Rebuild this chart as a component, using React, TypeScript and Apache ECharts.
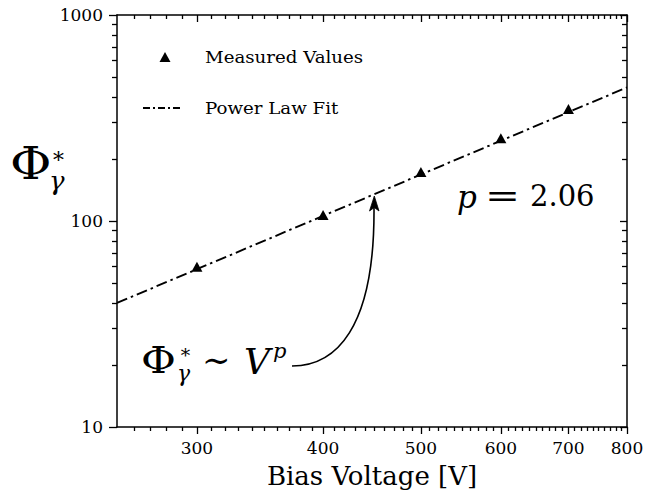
import React, { useEffect, useRef } from "react";
import * as echarts from "echarts";

// ---- data ----
const measuredVoltage = [300, 400, 500, 600, 700];
const measuredFlux = [60, 107, 173, 252, 350];
const fitVoltage = [250, 800];
const fitFlux = [40, 445];

const xMajorTicks = [300, 400, 500, 600, 700, 800];
const xMinorTicks = [260, 270, 280, 290, 310, 320, 330, 340, 350, 360, 370, 380, 390,
  410, 420, 430, 440, 450, 460, 470, 480, 490, 510, 520, 530, 540, 550, 560, 570, 580, 590,
  610, 620, 630, 640, 650, 660, 670, 680, 690, 710, 720, 730, 740, 750, 760, 770, 780, 790];
const yMajorTicks = [10, 100, 1000];
const yMinorTicks = [20, 30, 40, 50, 60, 70, 80, 90, 200, 300, 400, 500, 600, 700, 800, 900];

const legendNames = ["Measured Values", "Power Law Fit"];

const X_MIN = 250;
const X_MAX = 800;
const Y_MIN = 10;
const Y_MAX = 1000;

const FONT = "DejaVu Serif";
const BLACK = "#000";
const FIT_DASH = [11, 4, 2.5, 4];

export default function App() {
  const ref = useRef<HTMLDivElement>(null);

  useEffect(() => {
    if (!ref.current) return;
    const chart = echarts.init(ref.current, undefined, { renderer: "svg" });

    const xBase = (pos: string, ticks: number[], len: number, inside: boolean, labels: boolean, line: boolean, extra: any = {}) => ({
      type: "log",
      logBase: 10,
      position: pos,
      min: X_MIN,
      max: X_MAX,
      gridIndex: 0,
      axisLine: { show: line, onZero: false, lineStyle: { color: BLACK, width: 1.5 } },
      axisTick: { show: true, customValues: ticks, length: len, inside, lineStyle: { color: BLACK, width: 1.3 } },
      axisLabel: labels
        ? { show: true, customValues: ticks, color: BLACK, fontFamily: FONT, fontSize: 17, margin: 12, formatter: (v: number) => String(Math.round(v)) }
        : { show: false },
      splitLine: { show: false },
      minorTick: { show: false },
      ...extra,
    });

    const yBase = (pos: string, ticks: number[], len: number, inside: boolean, labels: boolean, line: boolean) => ({
      type: "log",
      logBase: 10,
      position: pos,
      min: Y_MIN,
      max: Y_MAX,
      gridIndex: 0,
      axisLine: { show: line, onZero: false, lineStyle: { color: BLACK, width: 1.5 } },
      axisTick: { show: true, customValues: ticks, length: len, inside, lineStyle: { color: BLACK, width: 1.3 } },
      axisLabel: labels
        ? { show: true, customValues: ticks, color: BLACK, fontFamily: FONT, fontSize: 17, margin: 14, formatter: (v: number) => String(Math.round(v)) }
        : { show: false },
      splitLine: { show: false },
      minorTick: { show: false },
    });

    const fitPoints = fitVoltage.map((v, i) => [v, fitFlux[i]]);
    const measuredPoints = measuredVoltage.map((v, i) => [v, measuredFlux[i]]);

    chart.setOption({
      animation: false,
      backgroundColor: "#fff",
      grid: { left: 117, right: 41, top: 15, bottom: 75, containLabel: false, outerBoundsMode: "none" },
      xAxis: [
        xBase("bottom", xMajorTicks, 7, false, true, true, {
          name: "Bias Voltage [V]",
          nameLocation: "middle",
          nameGap: 36,
          nameTextStyle: { fontFamily: FONT, fontSize: 26, color: BLACK },
        }),
        xBase("bottom", xMinorTicks, 4, false, false, false),
        xBase("top", xMajorTicks, 7, true, false, true),
        xBase("top", xMinorTicks, 4, true, false, false),
      ],
      yAxis: [
        yBase("left", yMajorTicks, 8, false, true, true),
        yBase("left", yMinorTicks, 5, false, false, false),
        yBase("right", yMajorTicks, 7, true, false, true),
        yBase("right", yMinorTicks, 5, true, false, false),
      ],
      series: [
        {
          name: legendNames[1],
          type: "line",
          xAxisIndex: 0,
          yAxisIndex: 0,
          data: fitPoints,
          showSymbol: false,
          symbol: "none",
          itemStyle: { color: BLACK },
          lineStyle: { color: BLACK, width: 1.9, type: FIT_DASH },
          z: 2,
        },
        {
          name: legendNames[0],
          type: "scatter",
          xAxisIndex: 0,
          yAxisIndex: 0,
          data: measuredPoints,
          symbol: "triangle",
          symbolSize: [11, 10],
          itemStyle: { color: BLACK, opacity: 1 },
          z: 3,
        },
      ],
      graphic: [
        // legend
        {
          type: "polygon",
          shape: { points: [[165, 52], [170.5, 62], [159.5, 62]] },
          style: { fill: BLACK },
        },
        {
          type: "text",
          x: 205,
          y: 57,
          style: { text: legendNames[0], font: `17.5px "${FONT}"`, fill: BLACK, verticalAlign: "middle" },
          scaleX: 1.04,
        },
        {
          type: "line",
          shape: { x1: 143, y1: 108, x2: 181, y2: 108 },
          style: { stroke: BLACK, lineWidth: 1.9, lineDash: [7, 3, 2, 3] },
        },
        {
          type: "text",
          x: 205,
          y: 108,
          style: { text: legendNames[1], font: `17.5px "${FONT}"`, fill: BLACK, verticalAlign: "middle" },
          scaleX: 1.04,
        },
        // y-axis label  Φ*_γ
        { type: "text", left: 10, top: 142, style: { text: "Φ", font: `44px "${FONT}"`, fill: BLACK }, scaleX: 1.15 },
        { type: "text", left: 51, top: 144, style: { text: "∗", font: `22px "${FONT}"`, fill: BLACK } },
        { type: "text", left: 49, top: 168, style: { text: "γ", font: `italic 26px "${FONT}"`, fill: BLACK } },
        // p = 2.06
        { type: "text", left: 457, top: 181, style: { text: "p", font: `italic 31px "${FONT}"`, fill: BLACK } },
        { type: "text", left: 485, top: 181, style: { text: "=", font: `31px "${FONT}"`, fill: BLACK }, scaleX: 1.35 },
        { type: "text", left: 530, top: 181, style: { text: "2.06", font: `29px "${FONT}"`, fill: BLACK } },
        // Φ*_γ ~ V^p
        { type: "text", left: 141, top: 341, style: { text: "Φ", font: `38px "${FONT}"`, fill: BLACK }, scaleX: 1.12 },
        { type: "text", left: 179, top: 341, style: { text: "∗", font: `19px "${FONT}"`, fill: BLACK } },
        { type: "text", left: 177, top: 362, style: { text: "γ", font: `italic 22px "${FONT}"`, fill: BLACK } },
        { type: "text", left: 202, top: 343, style: { text: "∼", font: `34px "${FONT}"`, fill: BLACK } },
        { type: "text", left: 244, top: 343, style: { text: "V", font: `italic 36px "${FONT}"`, fill: BLACK } },
        { type: "text", left: 273, top: 340, style: { text: "p", font: `italic 21px "${FONT}"`, fill: BLACK } },
        // curved arrow
        {
          type: "bezierCurve",
          shape: { x1: 292, y1: 366, cpx1: 335, cpy1: 366, cpx2: 375, cpy2: 330, x2: 374, y2: 207 },
          style: { stroke: BLACK, lineWidth: 1.6, fill: "none" },
        },
        {
          type: "polygon",
          shape: { points: [[374.3, 196], [369.5, 211], [374.3, 207.5], [379, 211]] },
          style: { fill: BLACK, stroke: BLACK, lineWidth: 0.8 },
        },
      ],
    });

    return () => chart.dispose();
  }, []);

  return (
    <div
      ref={ref}
      style={{ position: "fixed", left: 0, top: 0, width: 668, height: 502, background: "#fff" }}
    />
  );
}
